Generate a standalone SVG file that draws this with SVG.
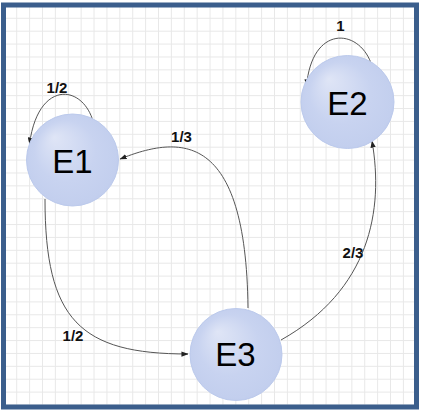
<svg xmlns="http://www.w3.org/2000/svg" width="424" height="413" viewBox="0 0 424 413">
<style>
.node circle{fill:url(#g);stroke:#bccaec;stroke-width:1}
.node text{font-family:"Liberation Sans",Arial,sans-serif;font-size:33px;fill:#000;text-anchor:middle}
.edge path{fill:none;stroke:#555;stroke-width:1;marker-end:url(#ah)}
.lbl{font-family:"Liberation Sans",Arial,sans-serif;font-size:15px;font-weight:bold;fill:#111;text-anchor:middle}
</style>
<defs>
<pattern id="grid" patternUnits="userSpaceOnUse" x="16.2" y="17.8" width="12.89" height="12.89">
<path d="M0.5 0V12.89M0 0.5H12.89" stroke="#e8e8e8" stroke-width="1" fill="none"/>
</pattern>
<radialGradient id="g" cx="0.5" cy="0.5" r="0.55" fx="0.3" fy="0.25">
<stop offset="0" stop-color="#dfe5f6"/>
<stop offset="0.6" stop-color="#c8d3f0"/>
<stop offset="0.9" stop-color="#c3cfee"/>
<stop offset="1" stop-color="#bfcbec"/>
</radialGradient>
<marker id="ah" viewBox="0 0 8 6" refX="7.5" refY="3" markerWidth="7" markerHeight="5.5" markerUnits="userSpaceOnUse" orient="auto">
<path d="M0 0L8 3L0 6z" fill="#222"/>
</marker>
</defs>
<rect width="424" height="413" fill="#fff"/>
<rect x="3.5" y="5" width="413" height="402" fill="url(#grid)" stroke="#3b5e8c" stroke-width="5"/>
<g id="connectors" class="edge">
<path d="M93,121 C82,84 38,80 29.5,144"/>
<path d="M371,63 C358,28 312,25 306.5,86"/>
<path d="M248,308 C246,130 180,135 120,159"/>
<path d="M281,340 C370,290 384,210 372,141"/>
<path d="M45,199 C45,320 80,354 188,354"/>
</g>
<g id="labels">
<text class="lbl" x="57" y="92.5">1/2</text>
<text class="lbl" x="181.5" y="141.5">1/3</text>
<text class="lbl" x="340.5" y="30.5">1</text>
<text class="lbl" x="353" y="257.5">2/3</text>
<text class="lbl" x="73" y="340.5">1/2</text>
</g>
<g id="E1" class="node"><circle cx="72.5" cy="160" r="46"/><text x="72.5" y="172.5">E1</text></g>
<g id="E2" class="node"><circle cx="347.5" cy="102" r="46.5"/><text x="347.5" y="115">E2</text></g>
<g id="E3" class="node"><circle cx="236" cy="354.5" r="46"/><text x="235.5" y="366">E3</text></g>
</svg>
